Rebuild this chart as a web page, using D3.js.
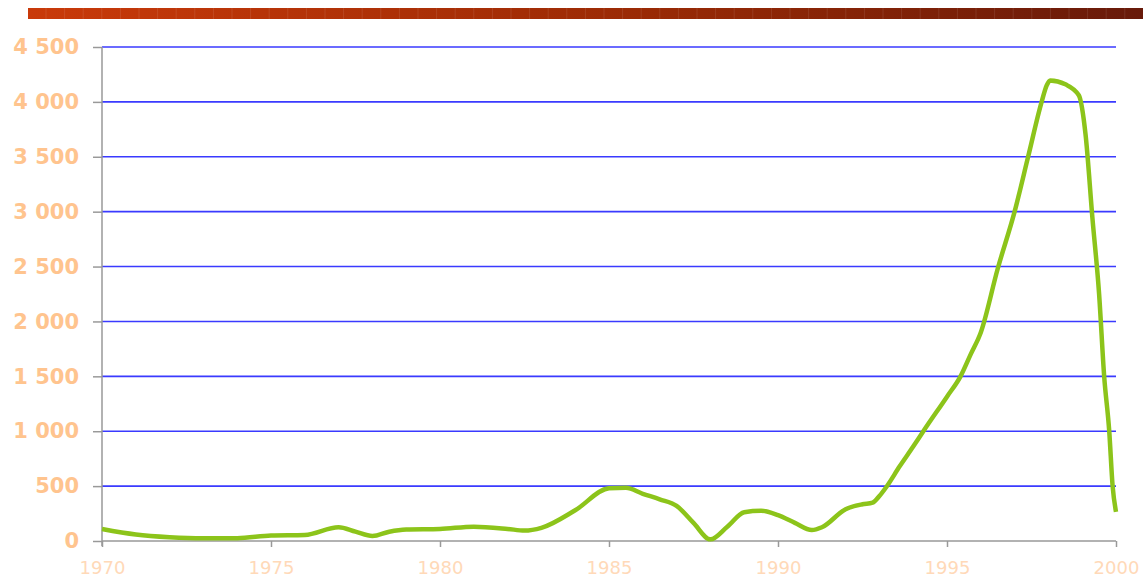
<!DOCTYPE html>
<html>
<head>
<meta charset="utf-8">
<script src="https://cdn.jsdelivr.net/npm/d3@7"></script>
<style>
  html, body { margin: 0; padding: 0; background: #ffffff; }
  svg { display: block; }
</style>
</head>
<body>
<svg id="chart" width="1148" height="578"></svg>
<script>
// ---- data ----
const years = [1970, 1971, 1972, 1973, 1974, 1975, 1976, 1977, 1977.5, 1978, 1978.5, 1979, 1980, 1981, 1982, 1982.5, 1983, 1984, 1985, 1985.5, 1986, 1986.5, 1987, 1987.5, 1988, 1988.5, 1989, 1989.5, 1990, 1990.5, 1991, 1991.3, 1992, 1992.5, 1992.8, 1993, 1993.2, 1993.6, 1994, 1994.3, 1995, 1995.4, 1995.7, 1996, 1996.5, 1997, 1997.4, 1997.8, 1997.95, 1998.05, 1998.5, 1998.9, 1999.1, 1999.3, 1999.5, 1999.65, 1999.8, 1999.9, 2000];
const values = [110, 60, 35, 25, 25, 50, 55, 125, 85, 45, 85, 105, 110, 130, 110, 95, 120, 280, 480, 485, 430, 380, 320, 165, 15, 130, 262, 275, 235, 165, 100, 125, 290, 335, 350, 410, 490, 680, 860, 1000, 1315, 1500, 1700, 1900, 2480, 3000, 3500, 4000, 4150, 4195, 4160, 4060, 3700, 2950, 2250, 1500, 1000, 500, 265];
const yTicks = [0, 500, 1000, 1500, 2000, 2500, 3000, 3500, 4000, 4500];
const xTicks = [1970, 1975, 1980, 1985, 1990, 1995, 2000];

const svg = d3.select("#chart");

// ---- decorative top bar ----
const defs = svg.append("defs");
const grad = defs.append("linearGradient").attr("id", "barGrad").attr("x1", "0%").attr("x2", "100%");
grad.append("stop").attr("offset", "0%").attr("stop-color", "#c93a0a");
grad.append("stop").attr("offset", "55%").attr("stop-color", "#9a2a05");
grad.append("stop").attr("offset", "100%").attr("stop-color", "#681a0a");
svg.append("rect").attr("x", 28).attr("y", 8).attr("width", 1115).attr("height", 11)
  .attr("fill", "url(#barGrad)");
svg.append("g").selectAll("line").data(d3.range(46, 1143, 18.6)).join("line")
  .attr("x1", d => d).attr("x2", d => d).attr("y1", 8).attr("y2", 19)
  .attr("stroke", "#ffffff").attr("stroke-opacity", 0.1).attr("stroke-width", 1);

// ---- scales ----
const x = d3.scaleLinear().domain([1970, 2000]).range([102, 1116]);
const y = d3.scaleLinear().domain([0, 4500]).range([541, 47]);

const loc = d3.formatLocale({ thousands: " ", grouping: [3], decimal: ",", currency: ["", ""] });
const fmt = loc.format(",");

// ---- gridlines ----
svg.append("g").selectAll("line").data(yTicks.filter(d => d > 0)).join("line")
  .attr("x1", x(1970)).attr("x2", x(2000))
  .attr("y1", d => y(d)).attr("y2", d => y(d))
  .attr("stroke", "#3a3aff").attr("stroke-width", 1.6);

// ---- axes ----
const yAxis = svg.append("g").attr("transform", `translate(${x(1970)},0)`)
  .call(d3.axisLeft(y).tickValues(yTicks).tickSize(9).tickPadding(14).tickFormat(fmt));
yAxis.select(".domain").attr("stroke", "#999999").attr("stroke-width", 1.5).attr("d", `M0,${y(4500)}V${y(0) + 5}`);
yAxis.selectAll(".tick line").attr("stroke", "#999999").attr("stroke-width", 1.5);
yAxis.selectAll(".tick text")
  .attr("fill", "#ffc48e").attr("font-family", "'DejaVu Sans', Verdana, sans-serif")
  .attr("font-size", 21).attr("font-weight", "bold");

const xAxis = svg.append("g").attr("transform", `translate(0,${y(0)})`)
  .call(d3.axisBottom(x).tickValues(xTicks).tickSize(6).tickPadding(14).tickFormat(d3.format("d")));
xAxis.select(".domain").attr("stroke", "#999999").attr("stroke-width", 1.5).attr("d", `M${x(1970)},0H${x(2000)}`);
xAxis.selectAll(".tick line").attr("stroke", "#999999").attr("stroke-width", 1.5);
xAxis.selectAll(".tick text")
  .attr("fill", "#ffd9b8").attr("font-family", "'DejaVu Sans', Verdana, sans-serif")
  .attr("font-size", 18);

// ---- line ----
const data = years.map((yr, i) => ({ yr, v: values[i] }));
const line = d3.line().x(d => x(d.yr)).y(d => y(d.v)).curve(d3.curveMonotoneX);
svg.append("path").datum(data)
  .attr("d", line)
  .attr("fill", "none")
  .attr("stroke", "#8cc41a")
  .attr("stroke-width", 4.5)
  .attr("stroke-linejoin", "round");
</script>
</body>
</html>
